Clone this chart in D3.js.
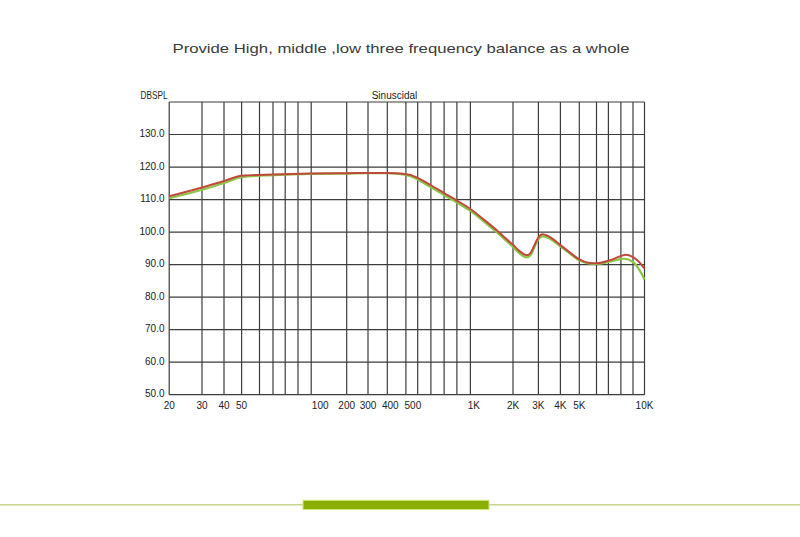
<!DOCTYPE html>
<html>
<head>
<meta charset="utf-8">
<script src="https://cdn.jsdelivr.net/npm/d3@7"></script>
<style>
  html, body { margin: 0; padding: 0; background: #fff; }
  svg { display: block; }
  text { font-family: "Liberation Sans", Arial, sans-serif; }
</style>
</head>
<body>
<svg id="chart" width="800" height="537"></svg>
<script>
// ---------- data ----------
const titleText = "Provide High, middle ,low three frequency balance as a whole";
const yAxisTitle = "DBSPL";
const topLabel = "Sinuscidal";

// frequency gridlines (Hz) and the chart's own (non-uniform) positions of them
const gridFreqs = [20,30,40,50,60,70,80,90,100,200,300,400,500,600,700,800,900,1000,2000,3000,4000,5000,6000,7000,8000,9000,10000];
const gridPos   = [169.2,202,224,241.6,259.5,273,285.2,298,311.2,346.7,368,387.3,405.9,417.7,430.9,444.1,456.9,470.4,513,538.4,560.4,579.3,596.5,608.4,620.9,633,644.5];

const xTickValues = [20,30,40,50,100,200,300,400,500,1000,2000,3000,4000,5000,10000];
const xTickLabels = ["20","30","40","50","100","200","300","400","500","1K","2K","3K","4K","5K","10K"];
const xLabelNudge = {100: 9, 400: 3, 500: 7, 1000: 3.5};

const yTicks = [50,60,70,80,90,100,110,120,130];
const yGrid  = [50,60,70,80,90,100,110,120,130,140];

const redFreq = [20,30,40,50,70,100,200,300,400,470,558,616,700,800,900,1000,1248,1541,1814,2000,2200,2400,2500,2650,2850,3000,3170,3400,4000,4500,5000,5500,6000,7000,8000,8350,9000,9500,10000];
const redVal  = [111.0,113.7,115.7,117.3,117.7,118.0,118.1,118.2,118.2,118.0,117.3,116.3,114.4,112.0,109.7,107.1,103.8,100.5,97.7,96.1,94.3,93.1,92.9,93.6,96.5,98.4,99.3,98.8,96.0,93.6,91.6,90.6,90.4,91.2,92.6,93.0,92.3,90.9,88.8];

const greenFreq = [20,30,40,50,70,100,200,300,400,470,558,616,700,800,900,1000,1248,1541,1814,2000,2200,2400,2500,2650,2850,3000,3170,3400,4000,4500,5000,5500,6000,7000,8000,8250,9000,9500,10000];
const greenVal  = [110.4,113.0,115.1,116.9,117.5,117.9,118.0,118.1,118.1,117.8,116.9,115.8,113.8,111.4,109.1,106.5,103.2,99.9,97.1,95.4,93.6,92.4,92.2,92.9,95.9,97.8,98.7,98.3,95.6,93.3,91.3,90.4,90.2,90.8,91.7,91.8,90.8,88.6,85.4];

// ---------- layout ----------
const svg = d3.select("#chart");
const plotTop = 102, plotBottom = 394.7;

const x = d3.scaleLog().domain(gridFreqs).range(gridPos);
const y = d3.scaleLinear().domain([50, 140]).range([plotBottom, plotTop]);

// title
svg.append("text")
  .attr("x", 172.5).attr("y", 52.5)
  .attr("textLength", 457).attr("lengthAdjust", "spacingAndGlyphs")
  .attr("font-size", 13.5).attr("fill", "#3a3a3a")
  .text(titleText);

// axis titles
svg.append("text")
  .attr("x", 140.5).attr("y", 98.5)
  .attr("textLength", 27).attr("lengthAdjust", "spacingAndGlyphs")
  .attr("font-size", 10.5).attr("fill", "#222")
  .text(yAxisTitle);
svg.append("text")
  .attr("x", 394.5).attr("y", 98.5).attr("text-anchor", "middle")
  .attr("font-size", 10).attr("fill", "#222")
  .text(topLabel);

// grid
const grid = svg.append("g").attr("stroke", "#3c3c3c").attr("stroke-width", 1.2).attr("fill", "none");
grid.selectAll("line.v").data(gridFreqs).join("line")
  .attr("class", "v")
  .attr("x1", d => x(d)).attr("x2", d => x(d))
  .attr("y1", y(140)).attr("y2", y(50));
grid.selectAll("line.h").data(yGrid).join("line")
  .attr("class", "h")
  .attr("x1", x(20)).attr("x2", x(10000))
  .attr("y1", d => y(d)).attr("y2", d => y(d));

// y tick labels
svg.append("g").selectAll("text").data(yTicks).join("text")
  .attr("x", 164.5).attr("y", d => y(d) + 2.5)
  .attr("text-anchor", "end").attr("font-size", 10).attr("fill", "#222")
  .text(d => d.toFixed(1));

// x tick labels
svg.append("g").selectAll("text").data(xTickValues).join("text")
  .attr("x", (d) => x(d) + (xLabelNudge[d] || 0)).attr("y", 408.5)
  .attr("text-anchor", "middle").attr("font-size", 10).attr("fill", "#222")
  .text((d, i) => xTickLabels[i]);

// curves
const line = d3.line()
  .x(d => x(d[0])).y(d => y(d[1]))
  .curve(d3.curveMonotoneX);

const greenData = greenFreq.map((f, i) => [f, greenVal[i]]);
const redData = redFreq.map((f, i) => [f, redVal[i]]);

svg.append("path").datum(greenData)
  .attr("d", line).attr("fill", "none")
  .attr("stroke", "#8cc548").attr("stroke-width", 2.2).attr("stroke-linejoin", "round");
svg.append("path").datum(redData)
  .attr("d", line).attr("fill", "none")
  .attr("stroke", "#bf4a3c").attr("stroke-width", 2).attr("stroke-linejoin", "round");

// bottom decoration
svg.append("line")
  .attr("x1", 0).attr("x2", 800).attr("y1", 504.7).attr("y2", 504.7)
  .attr("stroke", "#c6d68c").attr("stroke-width", 1.6);
svg.append("rect")
  .attr("x", 303).attr("y", 500.3).attr("width", 186).attr("height", 9.2)
  .attr("fill", "#8aae02").attr("stroke", "#d3e87c").attr("stroke-width", 1);
</script>
</body>
</html>
